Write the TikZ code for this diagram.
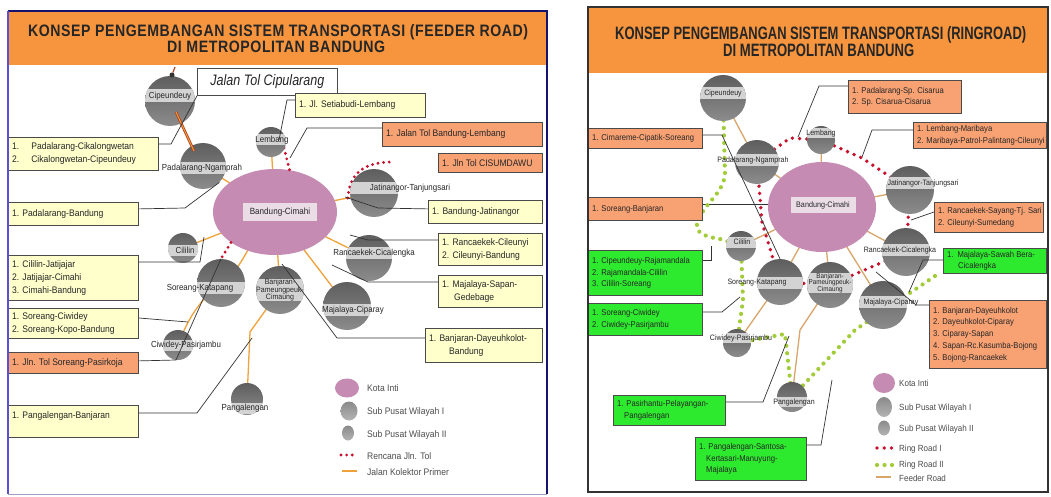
\documentclass[tikz,border=0pt]{standalone}
\usepackage{fontspec}
\usepackage{graphicx}
\setmainfont{Liberation Sans}
\newfontfamily\nar[FakeStretch=0.9]{Liberation Sans}
\usetikzlibrary{calc,shapes.geometric}
\pgfdeclarelayer{back}
\pgfdeclarelayer{feed}
\pgfdeclarelayer{ell}
\pgfdeclarelayer{ring}
\pgfsetlayers{back,feed,ell,ring,main}
\definecolor{hdr}{HTML}{F6953E}
\definecolor{yel}{HTML}{FFFFCC}
\definecolor{org}{HTML}{F8A274}
\definecolor{grn}{HTML}{2EEA2E}
\definecolor{bdr}{HTML}{4A4A4A}
\definecolor{txt}{HTML}{262626}
\definecolor{mauve}{HTML}{C58BB2}
\definecolor{mband}{HTML}{EBDDE6}
\definecolor{gtop}{HTML}{5E5E5E}
\definecolor{gbot}{HTML}{8C8C8C}
\definecolor{gband}{HTML}{D3D3D3}
\definecolor{ltop}{HTML}{8A8A8A}
\definecolor{lbot}{HTML}{B4B4B4}
\definecolor{cFeedL}{HTML}{EFA23A}
\definecolor{cFeedR}{HTML}{D8A56A}
\definecolor{cRed}{HTML}{C8102E}
\definecolor{cGrn}{HTML}{A2CC3A}
\definecolor{navy}{HTML}{14146E}
\definecolor{lblue}{HTML}{5A50D8}
\definecolor{tollbr}{HTML}{B5401E}
\tikzset{
  subc/.style={circle, inner sep=0pt, top color=gtop, bottom color=gbot},
  legc/.style={ellipse, inner sep=0pt, top color=ltop, bottom color=lbot},
  cband/.style={fill=gband},
  clab/.style={inner sep=0pt, text=txt, align=center},
  ybox/.style={anchor=north west, draw=bdr, line width=0.8pt, fill=yel, inner sep=0pt},
  obox/.style={ybox, fill=org},
  gbox/.style={ybox, fill=grn},
  btext/.style={anchor=west, inner sep=0pt, align=left, text=txt},
  lt/.style={font=\nar\fontsize{9.5}{13}\selectfont},
  rt/.style={font=\nar\fontsize{8.5}{11.7}\selectfont},
  fL/.style={draw=cFeedL, line width=1.3pt},
  fR/.style={draw=cFeedR, line width=1.3pt},
  rL/.style={draw=cRed, line width=3.2pt, line cap=round, dash pattern=on 0pt off 5.6pt},
  rR/.style={draw=cRed, line width=3.8pt, line cap=round, dash pattern=on 0pt off 7.2pt},
  gR/.style={draw=cGrn, line width=4.2pt, line cap=round, dash pattern=on 0pt off 7.5pt},
  call/.style={draw=black!80, line width=0.7pt},
  leg/.style={anchor=west, inner sep=0pt, text=black!70},
  legL/.style={leg, font=\nar\fontsize{9.5}{10}\selectfont},
  legR/.style={leg, font=\nar\fontsize{8.9}{9}\selectfont},
  ttl/.style={anchor=base west, inner sep=0pt, text=black!85},
}
\newcommand{\SubC}[7]{%
  \node[subc, minimum size={2*#3pt}] (#1) at (#2) {};
  \begin{scope}
    \clip (#2) circle[radius=#3pt];
    \fill[cband] ($(#4)+(-70,-#5)$) rectangle ($(#4)+(70,#5)$);
  \end{scope}
  \node[clab, font=\nar\fontsize#6\selectfont] (#1-t) at (#4) {#7};
}
\newcommand{\TBox}[8]{%
  \node[#2, minimum width=#6pt, minimum height=#7pt] (#1) at (#4,#5) {};
  \node[btext, #3] (#1-t) at ($(#1.west)+(4,0)$) {#8};
}
\begin{document}
\begin{tikzpicture}[x=1pt,y=-1pt]
\begin{pgfonlayer}{back}
\fill[white] (0,0) rectangle (1051,497);
\fill[hdr] (9,12) rectangle (546,65);
\fill[hdr] (589,8) rectangle (1047,73);
\end{pgfonlayer}
\useasboundingbox (0,0) rectangle (1051,497);

% titles
\node[ttl] (LT1) at (28,37) {\resizebox{500pt}{12pt}{\bfseries\addfontfeatures{LetterSpace=4}KONSEP PENGEMBANGAN SISTEM TRANSPORTASI (FEEDER ROAD)}};
\node[ttl] (LT2) at (167,53) {\resizebox{218pt}{11.5pt}{\bfseries\addfontfeatures{LetterSpace=4}DI METROPOLITAN BANDUNG}};
\node[ttl] (RT1) at (615,40) {\resizebox{411pt}{13pt}{\bfseries KONSEP PENGEMBANGAN SISTEM TRANSPORTASI (RINGROAD)}};
\node[ttl] (RT2) at (723,57) {\resizebox{191pt}{12.5pt}{\bfseries DI METROPOLITAN BANDUNG}};

% ellipses (kota inti)
\begin{pgfonlayer}{ell}
\node[ellipse, fill=mauve, minimum width=124pt, minimum height=86pt, inner sep=0pt] (L-bc) at (275,212) {};
\fill[mband] (243,203) rectangle (317,221);
\node[clab, font=\nar\fontsize{9}{9}\selectfont] (L-bc-t) at (280,212) {Bandung-Cimahi};
\node[ellipse, fill=mauve, minimum width=108pt, minimum height=90pt, inner sep=0pt] (R-bc) at (822,207) {};
\fill[mband] (791,197) rectangle (856,213);
\node[clab, font=\nar\fontsize{8}{8}\selectfont] (R-bc-t) at (823,205) {Bandung-Cimahi};
\end{pgfonlayer}

% left circles
\SubC{L-cip}{170,101}{25}{170,96}{6.5}{{8.8}{9}}{Cipeundeuy}
\SubC{L-pad}{203,166}{23}{202,168}{6}{{8.8}{9}}{Padalarang-Ngamprah}
\SubC{L-lem}{271,142}{15}{272,140}{5.5}{{8.8}{9}}{Lembang}
\SubC{L-jat}{374,193}{24}{410,188}{6}{{8.8}{9}}{Jatinangor-Tanjungsari}
\SubC{L-cil}{183,248}{15}{185,250}{5.5}{{8.8}{9}}{Cililin}
\SubC{L-sor}{221,283}{24}{200,288}{6}{{8.8}{9}}{Soreang-Katapang}
\SubC{L-ran}{369,258}{23}{374,253}{6}{{8.8}{9}}{Rancaekek-Cicalengka}
\SubC{L-ban}{280,290}{24}{280,290}{11}{{7.8}{7.5}}{Banjaran-\\Pameungpeuk-\\Cimaung}
\SubC{L-maj}{347,306}{24}{353,310}{6}{{8.8}{9}}{Majalaya-Ciparay}
\SubC{L-ciw}{178,345}{15}{186,345}{5.5}{{8.8}{9}}{Ciwidey-Pasirjambu}
\SubC{L-pan}{247,399}{16}{245,408}{5.5}{{8.8}{9}}{Pangalengan}
\node[circle, fill=black!80, minimum size=5pt, inner sep=0pt] (L-dot) at (172,75) {};

% right circles
\SubC{R-cip}{723,98}{23}{723,93}{6}{{7.8}{8}}{Cipeundeuy}
\SubC{R-pad}{757,162}{22}{753,160}{6}{{7.8}{8}}{Padalarang-Ngamprah}
\SubC{R-lem}{821,140}{14}{821,133}{5}{{7.8}{8}}{Lembang}
\SubC{R-jat}{910,190}{24}{923,183}{6}{{7.8}{8}}{Jatinangor-Tanjungsari}
\SubC{R-cil}{741,246}{15}{742,242}{5.5}{{7.8}{8}}{Cililin}
\SubC{R-sor}{780,282}{23}{757,283}{6}{{7.8}{8}}{Soreang-Katapang}
\SubC{R-ran}{906,252}{24}{900,250}{6}{{7.8}{8}}{Rancaekek-Cicalengka}
\SubC{R-ban}{830,285}{23}{830,283}{10}{{7}{6.8}}{Banjaran-\\Pameungpeuk-\\Cimaung}
\SubC{R-maj}{883,305}{24}{891,302}{6}{{7.8}{8}}{Majalaya-Ciparay}
\SubC{R-ciw}{737,343}{14}{741,338}{5}{{7.8}{8}}{Ciwidey-Pasirjambu}
\SubC{R-pan}{792,397}{15}{794,402}{5}{{7.8}{8}}{Pangalengan}

% feeder roads
\begin{pgfonlayer}{feed}
\draw[fL] (L-pad.center) -- (L-bc.center);
\draw[fL] (L-lem.center) -- (L-bc.center);
\draw[fL] (L-cil.center) -- (L-bc.center);
\draw[fL] (L-sor.center) .. controls (246,266) and (244,246) .. (L-bc.center);
\draw[fL] (L-jat.center) -- (L-bc.center);
\draw[fL] (L-ran.center) -- (L-bc.center);
\draw[fL] (L-maj.center) -- (L-bc.center);
\draw[fL] (L-ban.center) -- (L-bc.center);
\draw[fL] (L-sor.center) .. controls (200,300) and (188,318) .. (L-ciw.center);
\draw[fL] (L-ban.center) -- (250,332) -- (L-pan.center);
\draw[fR] (R-cip.center) -- (R-pad.center);
\draw[fR] (R-pad.center) -- (R-bc.center);
\draw[fR] (R-lem.center) -- (R-bc.center);
\draw[fR] (R-cil.center) -- (R-bc.center);
\draw[fR] (R-sor.center) -- (R-bc.center);
\draw[fR] (R-jat.center) -- (R-bc.center);
\draw[fR] (R-ran.center) -- (R-bc.center);
\draw[fR] (R-maj.center) -- (R-bc.center);
\draw[fR] (R-ban.center) -- (R-bc.center);
\draw[fR] (R-sor.center) -- (R-ciw.center);
\draw[fR] (R-ban.center) -- (800,330) -- (R-pan.center);
\end{pgfonlayer}

% ring roads
\begin{pgfonlayer}{ring}
\draw[rL] ($(L-lem)+(13,6)$) -- ($(L-bc.north)+(15,3)$);
\coordinate (cisu) at (390,162);
\draw[rL] ($(L-jat.west)+(-2,5)$) .. controls (350,176) and (360,163) .. (cisu);
\draw[rL] (L-bc.south west) -- (L-sor.north);
\draw[rR] (R-pad.center) -- (790,138) -- (R-lem.center) -- (862,158) -- (R-jat.center) -- (R-ran.center) -- (R-ban.center) -- (R-sor.center) -- (762,222) -- cycle;
\draw[gR] (R-cip.center) -- (725,175) .. controls (722,196) and (703,203) .. (697,224) .. controls (695,232) and (705,237) .. (720,239) -- (R-cil.center) -- (743,300) -- (R-ciw.center) -- (785,334) -- (R-pan.center) -- (855,330) -- (935,276);
\end{pgfonlayer}

% left boxes
\node[ybox, fill=white, minimum width=140pt, minimum height=27pt] (LJT) at (197,68) {};
\node[inner sep=0pt, text=txt] (LJT-t) at (LJT.center) {\resizebox{114pt}{11pt}{\itshape Jalan Tol Cipularang}};
\TBox{LB1}{ybox}{lt}{8}{137}{150}{33}{1.\hspace{12pt}Padalarang-Cikalongwetan\\2.\hspace{12pt}Cikalongwetan-Cipeundeuy}
\TBox{LB2}{ybox}{lt}{8}{202}{130}{23}{1. Padalarang-Bandung}
\TBox{LB3}{ybox}{lt}{8}{255}{130}{45}{1. Cililin-Jatijajar\\2. Jatijajar-Cimahi\\3. Cimahi-Bandung}
\TBox{LB4}{ybox}{lt}{8}{308}{130}{30}{1. Soreang-Ciwidey\\2. Soreang-Kopo-Bandung}
\TBox{LB5}{obox}{lt}{8}{352}{130}{21}{1. Jln. Tol Soreang-Pasirkoja}
\TBox{LB6}{ybox}{lt}{8}{405}{130}{32}{1. Pangalengan-Banjaran\\\mbox{}}
\TBox{LR1}{ybox}{lt}{295}{93}{130}{24}{1. Jl. Setiabudi-Lembang}
\TBox{LR2}{obox}{lt}{382}{122}{160}{24}{1. Jalan Tol Bandung-Lembang}
\TBox{LR3}{obox}{lt}{438}{153}{104}{19}{1. Jln Tol CISUMDAWU}
\TBox{LR4}{ybox}{lt}{428}{200}{114}{23}{1. Bandung-Jatinangor}
\TBox{LR5}{ybox}{lt}{438}{233}{104}{32}{1. Rancaekek-Cileunyi\\2. Cileunyi-Bandung}
\TBox{LR6}{ybox}{lt}{438}{275}{104}{32}{1. Majalaya-Sapan-\\\hspace*{12pt}Gedebage}
\TBox{LR7}{ybox}{lt}{425}{328}{117}{34}{1. Banjaran-Dayeuhkolot-\\\hspace*{20pt}Bandung}

% right boxes
\TBox{RB1}{obox}{rt}{588}{128}{114}{20}{1. Cimareme-Cipatik-Soreang}
\TBox{RB2}{obox}{rt}{588}{197}{114}{23}{1. Soreang-Banjaran}
\TBox{RB3}{gbox}{rt}{588}{250}{114}{45}{1. Cipeundeuy-Rajamandala\\2. Rajamandala-Cililin\\3. Cililin-Soreang}
\TBox{RB4}{gbox}{rt}{588}{303}{114}{32}{1. Soreang-Ciwidey\\2. Ciwidey-Pasirjambu}
\TBox{RB5}{gbox}{rt}{613}{395}{112}{30}{1. Pasirhantu-Pelayangan-\\\hspace*{7pt}Pangalengan}
\TBox{RB6}{gbox}{rt}{695}{437}{111}{43}{1. Pangalengan-Santosa-\\\hspace*{7pt}Kertasari-Manuyung-\\\hspace*{7pt}Majalaya}
\TBox{RR1}{obox}{rt}{848}{80}{113}{33}{1. Padalarang-Sp. Cisarua\\2. Sp. Cisarua-Cisarua}
\TBox{RR2}{obox}{rt}{913}{122}{133}{26}{1. Lembang-Maribaya\\2. Maribaya-Patrol-Palintang-Cileunyi}
\TBox{RR3}{obox}{rt}{934}{202}{109}{30}{1. Rancaekek-Sayang-Tj. Sari\\2. Cileunyi-Sumedang}
\TBox{RR4}{gbox}{rt}{943}{248}{103}{25}{1.\hspace{4pt}Majalaya-Sawah Bera-\\\hspace*{11pt}Cicalengka}
\TBox{RR5}{obox}{rt}{929}{300}{117}{68}{1. Banjaran-Dayeuhkolot\\2. Dayeuhkolot-Ciparay\\3. Ciparay-Sapan\\4. Sapan-Rc.Kasumba-Bojong\\5. Bojong-Rancaekek}

% toll Cipularang
\draw[tollbr, line width=2.6pt] ($(L-cip)+(6,11)$) -- ($(L-pad)+(-9,-15)$);
\draw[cFeedL, line width=0.9pt] ($(L-cip)+(6,11)$) -- ($(L-pad)+(-9,-15)$);
\draw[tollbr, line width=1.2pt] (L-dot) -- ($(L-dot)+(3,-8)$);

% left callouts
\draw[call] ($(LB1.north east)+(0,7)$) -- (171,144) -- (LJT.south west);
\draw[call] ($(LB2.east)+(0,-5)$) -- (185,208) -- (L-pad.south east);
\draw[call] ($(LB3.north east)+(0,7)$) -- (200,262) -- (204,237);
\draw[call] ($(LB4.north east)+(0,10)$) -- (188,322);
\draw[call] ($(LB5.east)+(0,-2)$) -- (176,360) -- (L-sor.north);
\draw[call] ($(LB6.north east)+(0,8)$) -- (197,413) -- (252,338);
\draw[call] ($(LR1.north west)+(0,7)$) -- (287,100) -- (279,140);
\draw[call] ($(LR2.north west)+(0,6)$) -- (307,128) -- (290,158);
\draw[call] ($(LR4.west)+(0,-3)$) -- (378,208) -- (345,197);
\draw[call] ($(LR5.north west)+(0,7)$) -- (368,240) -- (350,235);
\draw[call] ($(LR6.north west)+(0,7)$) -- (368,282) -- (332,265);
\draw[call] ($(LR7.north west)+(0,10)$) -- (337,338) -- (282,264);

% right callouts
\begin{pgfonlayer}{feed}
\draw[call] ($(RB2.north east)+(0,7)$) -- (790,204);
\end{pgfonlayer}
\draw[call] ($(RB1.north east)+(0,7)$) -- (722,135) -- (R-sor.north);
\draw[call] ($(RB3.north east)+(0,10)$) -- (711,260) -- (711,246);
\draw[call] ($(RB4.north east)+(0,9)$) -- (722,312) -- (740,297);
\draw[call] ($(RB5.north east)+(0,7)$) -- (763,402) -- (789,336);
\draw[call] ($(RB6.north east)+(0,8)$) -- (821,445) -- (832,380);
\draw[call] ($(RR1.north west)+(0,6)$) -- (819,86) -- (798,137);
\draw[call] ($(RR2.north west)+(0,8)$) -- (872,130) -- (862,157);
\draw[call] ($(RR3.north west)+(0,10)$) -- (911,220);
\draw[call] ($(RR4.north west)+(0,12)$) -- (923,260) -- (909,292);
\draw[call] ($(RR5.north west)+(0,5)$) -- (916,305) -- (876,272);

% left legend
\node[ellipse, fill=mauve, minimum width=24pt, minimum height=19pt, inner sep=0pt] (LL1) at (347,388) {};
\node[legL] (LL1-t) at (367,388) {Kota Inti};
\node[legc, minimum width=17pt, minimum height=19pt] (LL2) at (349,411) {};
\node[legL] (LL2-t) at (367,412) {Sub Pusat Wilayah I};
\node[legc, minimum width=12pt, minimum height=15pt] (LL3) at (348,433) {};
\node[legL] (LL3-t) at (367,435) {Sub Pusat Wilayah II};
\coordinate (LL4a) at (341,455); \coordinate (LL4b) at (357,455);
\draw[rL] (LL4a) -- (LL4b);
\node[legL] (LL4-t) at (367,456) {Rencana Jln. Tol};
\coordinate (LL5a) at (342,471); \coordinate (LL5b) at (357,471);
\draw[fL] (LL5a) -- (LL5b);
\node[legL] (LL5-t) at (367,472) {Jalan Kolektor Primer};

% right legend
\node[ellipse, fill=mauve, minimum width=22pt, minimum height=20pt, inner sep=0pt] (RL1) at (884,383) {};
\node[legR] (RL1-t) at (899,383) {Kota Inti};
\node[legc, minimum width=16pt, minimum height=20pt] (RL2) at (884,407) {};
\node[legR] (RL2-t) at (899,408) {Sub Pusat Wilayah I};
\node[legc, minimum width=12pt, minimum height=15pt] (RL3) at (884,428) {};
\node[legR] (RL3-t) at (899,429) {Sub Pusat Wilayah II};
\coordinate (RL4a) at (877,448); \coordinate (RL4b) at (892,448);
\draw[rR] (RL4a) -- (RL4b);
\node[legR] (RL4-t) at (899,449) {Ring Road I};
\coordinate (RL5a) at (877,465); \coordinate (RL5b) at (892,465);
\draw[gR] (RL5a) -- (RL5b);
\node[legR] (RL5-t) at (899,465) {Ring Road II};
\coordinate (RL6a) at (876,477); \coordinate (RL6b) at (891,477);
\draw[fR] (RL6a) -- (RL6b);
\node[legR] (RL6-t) at (899,478) {Feeder Road};

% frames
\draw[navy, line width=1.6pt] (8,11) -- (547,11) -- (547,494);
\draw[lblue, line width=1.3pt] (8,11) -- (8,494);
\draw[navy!40, line width=0.8pt] (8,494) -- (547,494);
\draw[black!80, line width=1.8pt] (588,7) rectangle (1048,492);
\end{tikzpicture}
\end{document}
